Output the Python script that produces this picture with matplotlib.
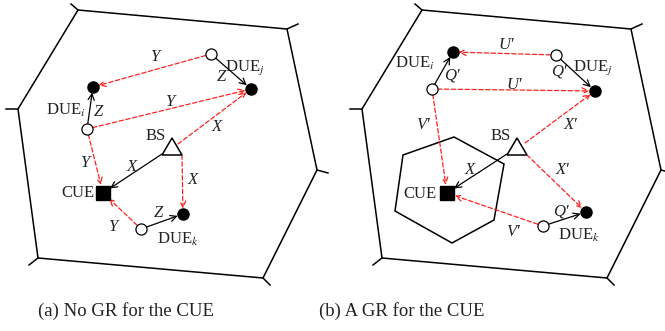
import numpy as np
import matplotlib.pyplot as plt
from matplotlib.patches import Polygon

plt.rcParams['font.family'] = ['Liberation Serif', 'DejaVu Serif']
plt.rcParams['mathtext.fontset'] = 'stix'

# ---- geometry, in pixels of the 665x331 picture (y down) ----
# outer cell (left panel); right panel is the same cell shifted
cell = [(78, 10), (287, 29), (317, 170), (263, 278), (38, 258), (18, 109)]
stubs = [(71, 4), (298, 24), (328, 173), (270, 285), (29, 265), (6, 109)]
shift = 344

# inner guard region (right panel only)
gr = [(454, 137), (504, 164), (494, 220), (452, 243), (395, 211), (403, 155)]

# nodes per panel: name -> (x, y)
nodes_a = {'di_rx': (93, 87), 'di_tx': (87, 129), 'dj_tx': (211, 54),
           'dj_rx': (251, 89), 'bs': (172, 148), 'cue': (103, 193),
           'dk_tx': (141, 229), 'dk_rx': (183, 214)}
nodes_b = {'di_rx': (453, 52), 'di_tx': (432, 89), 'dj_tx': (556, 55),
           'dj_rx': (595, 91), 'bs': (517, 148), 'cue': (447, 193),
           'dk_tx': (543, 226), 'dk_rx': (586, 212)}

# links: (from, to, kind) kind: 'i' interference (red dashed), 's' signal (black)
links = [('dj_tx', 'di_rx', 'i'), ('di_tx', 'dj_rx', 'i'),
         ('bs', 'dj_rx', 'i'), ('bs', 'dk_rx', 'i'),
         ('di_tx', 'cue', 'i'), ('dk_tx', 'cue', 'i'),
         ('bs', 'cue', 's'), ('di_tx', 'di_rx', 's'),
         ('dj_tx', 'dj_rx', 's'), ('dk_tx', 'dk_rx', 's')]

# where a link leaves the BS triangle (offset from BS centre)
bs_ports_a = {'dj_rx': (6, -4), 'dk_rx': (10, 7), 'cue': (-10, 6)}
bs_ports_b = {'dj_rx': (8, -5), 'dk_rx': (10, 7), 'cue': (-10, 6)}

# labels: (text, x, y)
labels_a = [('Y', 155, 57), ('Z', 221, 77), ('Z', 98, 112),
            ('Y', 170, 102), ('X', 217, 127), ('Y', 85, 163),
            ('X', 132, 167), ('X', 193, 180), ('Z', 158, 213),
            ('Y', 113, 227)]
labels_b = [("U\u2032", 506, 45), ("Q\u2032", 452, 75), ("Q\u2032", 559, 72),
            ("U\u2032", 514, 85), ("V\u2032", 423, 125), ("X\u2032", 570, 125),
            ('X', 470, 170), ("X\u2032", 562, 170), ("Q\u2032", 561, 211),
            ("V\u2032", 513, 232)]
names_a = [('DUE$_j$', 245, 68), ('DUE$_i$', 66, 110), ('BS', 156, 136),
           ('CUE', 78, 193), ('DUE$_k$', 178, 239)]
names_b = [('DUE$_i$', 415, 63), ('DUE$_j$', 593, 68), ('BS', 501, 136),
           ('CUE', 420, 194), ('DUE$_k$', 579, 235)]
captions = [('(a) No GR for the CUE', 126, 311), ('(b) A GR for the CUE', 402, 311)]

red = '#ff2020'

fig = plt.figure(figsize=(6.65, 3.31), dpi=100)
ax = fig.add_axes([0, 0, 1, 1])
ax.set_xlim(0, 665)
ax.set_ylim(331, 0)
ax.axis('off')


def draw_cell(dx):
    pts = np.array(cell) + [dx, 0]
    ax.add_patch(Polygon(pts, closed=True, fill=False, ec='black', lw=1.1))
    for (x0, y0), (x1, y1) in zip(pts, np.array(stubs) + [dx, 0]):
        ax.plot([x0, x1], [y0, y1], color='black', lw=1.1)


def draw_panel(nodes, ports):
    for a, b, kind in links:
        pa = np.array(nodes[a], dtype=float)
        pb = np.array(nodes[b], dtype=float)
        sa = 4
        if a == 'bs':
            pa = pa + ports[b]
            sa = 0
        sb = 6 if b == 'cue' else 4
        if kind == 'i':
            props = dict(arrowstyle='->', color=red, lw=0.9, ls=(0, (3.5, 2)),
                         shrinkA=sa, shrinkB=sb, mutation_scale=11)
        else:
            props = dict(arrowstyle='->', color='black', lw=0.9,
                         shrinkA=sa, shrinkB=sb, mutation_scale=11)
        ax.annotate('', xy=pb, xytext=pa, arrowprops=props)
    for k, (x, y) in nodes.items():
        if k.endswith('_tx'):
            ax.plot(x, y, 'o', ms=8, mfc='white', mec='black', mew=0.9, zorder=5)
        elif k.endswith('_rx'):
            ax.plot(x, y, 'o', ms=8, mfc='black', mec='black', zorder=5)
        elif k == 'cue':
            ax.plot(x, y, 's', ms=10, mfc='black', mec='black', zorder=5)
        elif k == 'bs':
            tri = np.array([(0, -10), (-10, 7), (10, 7)]) + [x, y]
            ax.add_patch(Polygon(tri, closed=True, fc='white', ec='black',
                                 lw=1.1, zorder=5))


draw_cell(0)
draw_cell(shift)
ax.add_patch(Polygon(gr, closed=True, fill=False, ec='black', lw=1.1))
draw_panel(nodes_a, bs_ports_a)
draw_panel(nodes_b, bs_ports_b)

for t, x, y in labels_a + labels_b:
    ax.text(x, y, t, fontsize=12, style='italic', ha='center', va='center',
            color='#222222')
for t, x, y in names_a + names_b:
    ax.text(x, y, t, fontsize=12, ha='center', va='center', color='#222222')
for t, x, y in captions:
    ax.text(x, y, t, fontsize=13.5, ha='center', va='center', color='#222222')

fig.savefig('out.png', dpi=100)
